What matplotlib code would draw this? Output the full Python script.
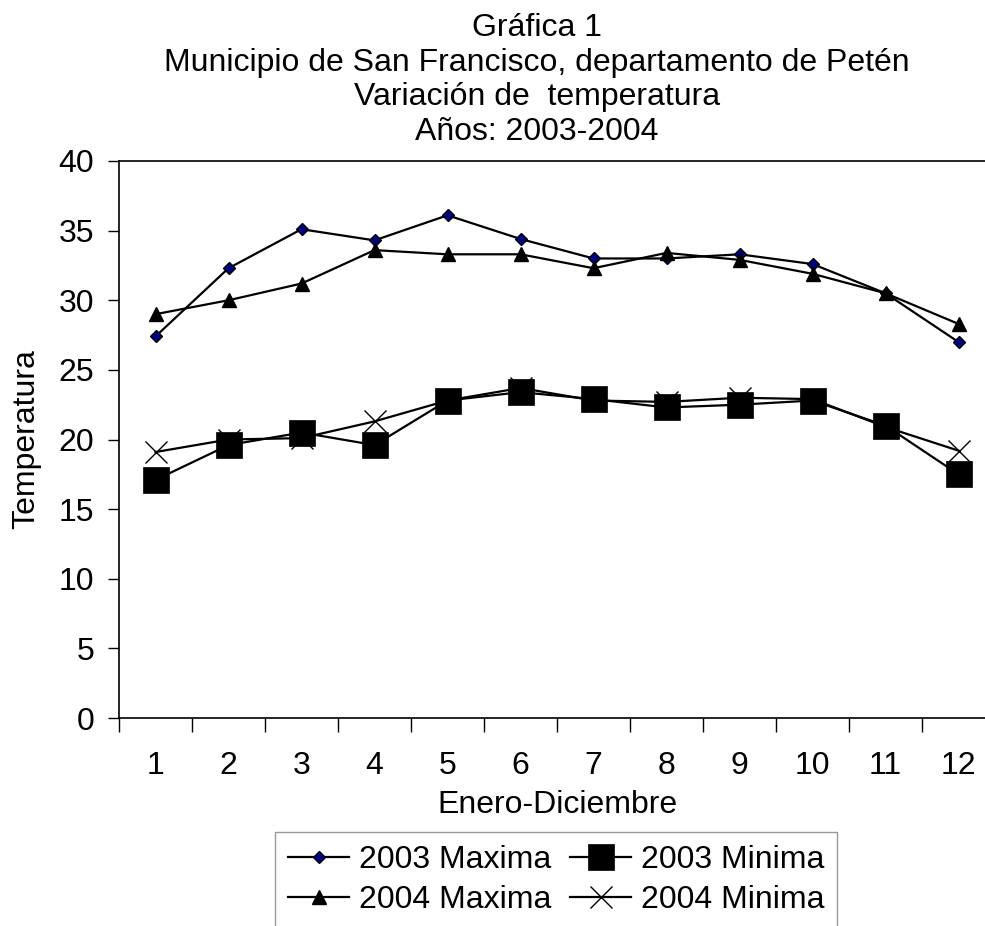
import matplotlib
matplotlib.use("Agg")
import matplotlib.pyplot as plt
from matplotlib.ticker import FixedLocator

plt.rcParams["font.family"] = ["Liberation Sans", "DejaVu Sans"]

# data
months = [1, 2, 3, 4, 5, 6, 7, 8, 9, 10, 11, 12]
max_2003 = [27.4, 32.3, 35.1, 34.3, 36.1, 34.4, 33.0, 33.0, 33.3, 32.6, 30.5, 27.0]
min_2003 = [17.1, 19.6, 20.5, 19.6, 22.8, 23.4, 22.9, 22.3, 22.5, 22.8, 21.0, 17.5]
max_2004 = [29.0, 30.0, 31.2, 33.6, 33.3, 33.3, 32.3, 33.4, 32.9, 31.9, 30.5, 28.3]
min_2004 = [19.1, 20.0, 20.1, 21.3, 22.8, 23.7, 22.8, 22.7, 23.0, 22.9, 20.9, 19.2]

title_lines = [
    "Gráfica 1",
    "Municipio de San Francisco, departamento de Petén",
    "Variación de  temperatura",
    "Años: 2003-2004",
]

W, H = 985, 926
fig = plt.figure(figsize=(W / 100, H / 100), dpi=100)
fs = 23

# plot area (right edge runs past the picture, as in the reference)
left, right, top, bottom = 119, 995, 161, 718
ax = fig.add_axes([left / W, 1 - bottom / H, (right - left) / W, (bottom - top) / H])

lw = 1.6
l1, = ax.plot(months, max_2003, color="black", lw=lw, marker="D", ms=6.3,
              mfc="#000080", mec="black", mew=1.0, label="2003 Maxima")
l3, = ax.plot(months, max_2004, color="black", lw=lw, marker="^", ms=9.5,
              mfc="black", mec="black", label="2004 Maxima")
l4, = ax.plot(months, min_2004, color="black", lw=lw, marker="x", ms=16,
              mec="black", mew=1.0, label="2004 Minima")
l2, = ax.plot(months, min_2003, color="black", lw=lw, marker="s", ms=18.5,
              mfc="black", mec="black", mew=0.5, label="2003 Minima")

ax.set_xlim(0.5, 12.5)
ax.set_ylim(0, 40)
ax.set_yticks(range(0, 41, 5))

# category boundaries get the tick marks, labels sit in the middle
ax.xaxis.set_major_locator(FixedLocator([m - 0.5 for m in months] + [12.5]))
ax.xaxis.set_major_formatter(plt.NullFormatter())
ax.xaxis.set_minor_locator(FixedLocator(months))
ax.set_xticklabels([str(m) for m in months], minor=True)
ax.tick_params(axis="x", which="major", direction="out", length=10, width=1)
ax.tick_params(axis="x", which="minor", length=0, pad=24, labelsize=fs)
ax.tick_params(axis="y", direction="out", length=8, width=1, pad=10, labelsize=fs)

for s in ax.spines.values():
    s.set_linewidth(1.2)

ax.set_xlabel("Enero-Diciembre", fontsize=fs, labelpad=6)
ax.set_ylabel("Temperatura", fontsize=fs, labelpad=12)

# title, one line at a time
baselines = [36, 71, 105, 140]
for txt, yb in zip(title_lines, baselines):
    fig.text(537 / W, 1 - yb / H, txt, ha="center", va="baseline", fontsize=fs)

leg = fig.legend(handles=[l1, l3, l2, l4], ncol=2, loc="upper left",
                 bbox_to_anchor=(275 / W, 1 - 832 / H), borderaxespad=0,
                 fontsize=fs, frameon=True, fancybox=False, handlelength=1.9,
                 handletextpad=0.3, columnspacing=0.6, borderpad=0.42,
                 labelspacing=0.31)
leg.get_frame().set_edgecolor("#808080")
leg.get_frame().set_linewidth(1.0)

fig.savefig("out.png", dpi=100)
